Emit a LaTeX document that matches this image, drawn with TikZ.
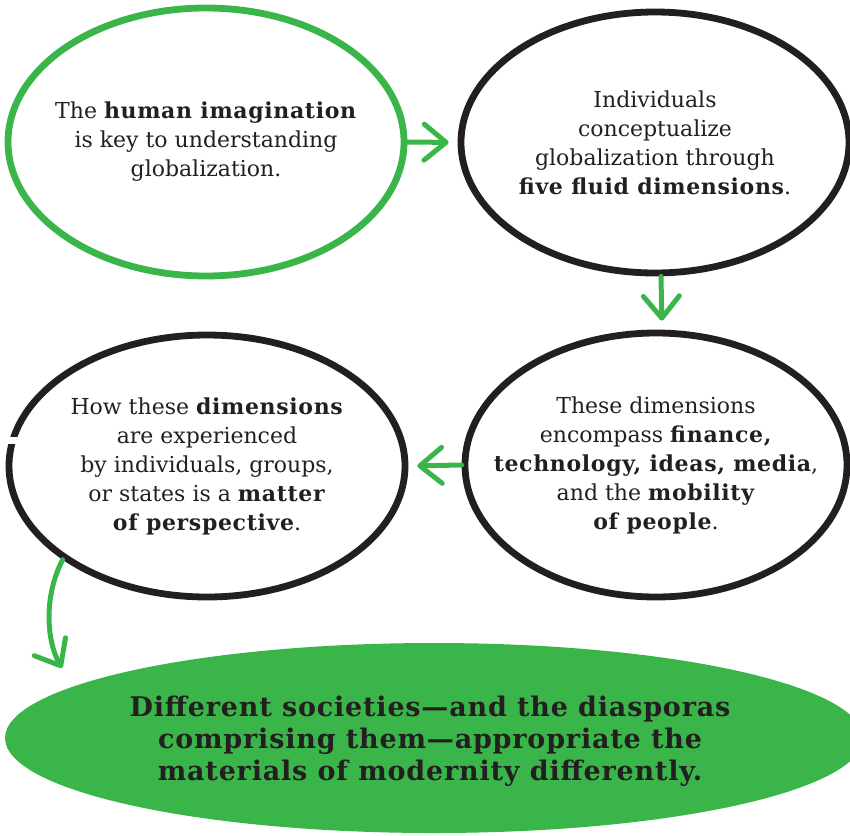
\documentclass[tikz,border=0pt]{standalone}
\usepackage{fontspec}
\setmainfont{DejaVu Serif}[BoldFeatures={LetterSpace=3}]
\usetikzlibrary{shapes.geometric,arrows.meta}
\definecolor{gr}{HTML}{3AB54A}
\definecolor{ink}{HTML}{231F20}
\begin{document}
\begin{tikzpicture}[x=1pt,y=-1pt,
  bubble/.style={ellipse, draw=ink, line width=6.8pt, inner sep=0pt},
  btext/.style={align=center, inner sep=0pt, text=ink, font=\fontsize{22}{29}\selectfont},
  garrow/.style={draw=gr, line width=5pt, line cap=round,
    -{Straight Barb[length=22pt,width=36pt,round]}}]
\useasboundingbox (0,0) rectangle (850,835);
\clip (0,0) rectangle (850,835);
\node[bubble, draw=gr, minimum width=396pt, minimum height=268pt] (e1) at (206,142) {};
\node[btext] (t1) at (e1.center)
  {The \textbf{human imagination}\\is key to understanding\\globalization.};
\node[bubble, minimum width=388pt, minimum height=261pt] (e2) at (655,142.5) {};
\node[btext] (t2) at (e2.center)
  {Individuals\\conceptualize\\globalization through\\\textbf{five fluid dimensions}.};
\node[bubble, minimum width=382pt, minimum height=264pt] (e3) at (656,465) {};
\node[btext] (t3) at (e3.center)
  {These dimensions\\encompass \textbf{finance,}\\\textbf{technology, ideas, media},\\and the \textbf{mobility}\\\textbf{of people}.};
\node[bubble, minimum width=396pt, minimum height=262pt] (e4) at (207,466) {};
\fill[white] (0,437) rectangle (26,444);
\node[btext] (t4) at (e4.center)
  {How these \textbf{dimensions}\\are experienced\\by individuals, groups,\\or states is a \textbf{matter}\\\textbf{of perspective}.};
\node[ellipse, fill=gr, inner sep=0pt, minimum width=858pt, minimum height=190pt] (e5) at (434,738) {};
\node[btext, font=\bfseries\fontsize{27}{32}\selectfont] (t5) at (430,741)
  {Different societies—and the diasporas\\comprising them—appropriate the\\materials of modernity differently.};
\coordinate (a4end) at (62,668);
\draw[garrow, shorten >=9pt] (e1.east) -- (e2.west);
\draw[garrow, shorten >=9pt] ([xshift=6pt]e2.south) -- ([xshift=6pt]e3.north);
\draw[garrow, shorten >=9pt] (e3.west) -- (e4.east);
\draw[garrow] (e4.213) .. controls (44,595) and (46,640) .. (a4end);
\end{tikzpicture}
\end{document}
